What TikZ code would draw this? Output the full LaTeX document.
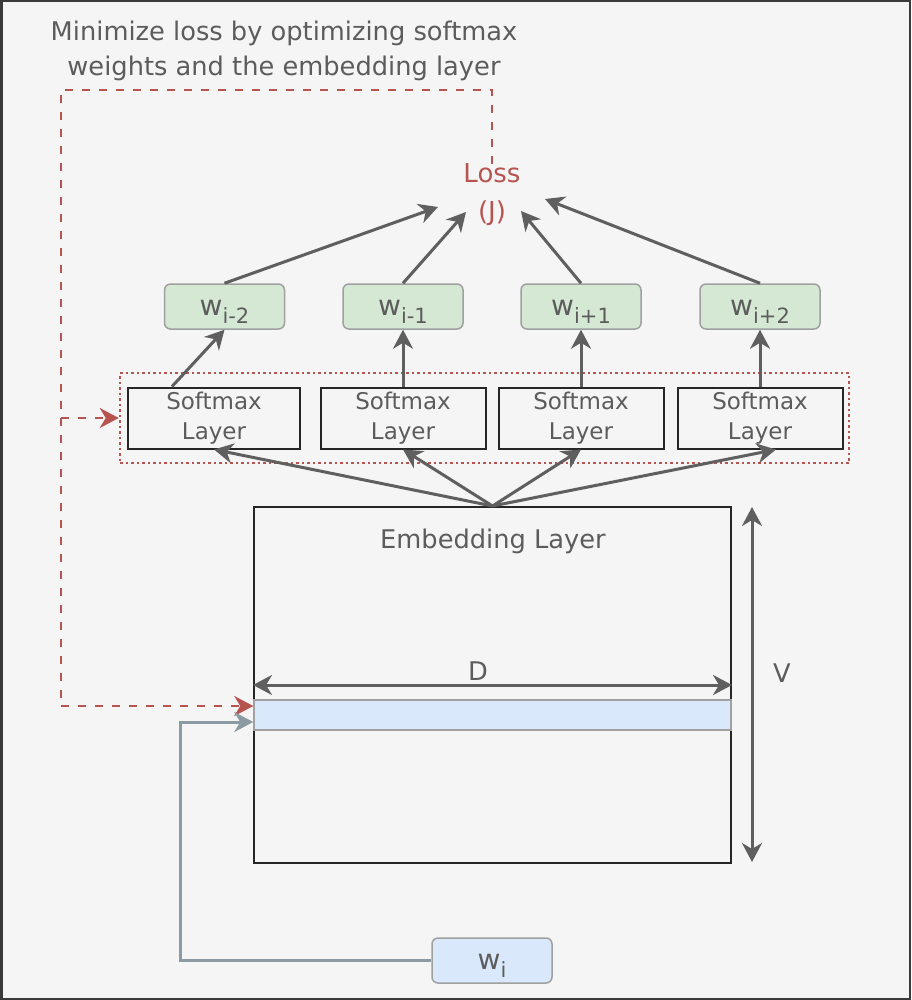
\documentclass[tikz,border=0pt]{standalone}
\usepackage{fontspec}
\setmainfont{DejaVu Sans}
\usetikzlibrary{positioning, arrows.meta, calc}
\definecolor{sfondo}{HTML}{F5F5F5}
\definecolor{cornice}{HTML}{3A3A3A}
\definecolor{testo}{HTML}{5C5C5C}
\definecolor{grigio}{HTML}{5F5F5F}
\definecolor{rosso}{HTML}{B85450}
\definecolor{verde}{HTML}{D5E8D4}
\definecolor{azzurro}{HTML}{DAE8FC}
\definecolor{bordo}{HTML}{A0A0A0}
\definecolor{legame}{HTML}{8C9AA4}
\newcommand{\wpos}[1]{w\raisebox{-8pt}{\fontsize{21}{21}\selectfont #1}}
\tikzset{
    punta/.style={-{Stealth[length=19pt, width=20pt, inset=6pt]}},
    freccia/.style={line width=3pt, grigio, punta}, % frecce grigie
    doppia/.style={line width=3pt, grigio, {Stealth[length=19pt, width=20pt, inset=6pt]}-{Stealth[length=19pt, width=20pt, inset=6pt]}},
    retro/.style={line width=2.5pt, rosso, dash pattern=on 8pt off 9pt}, % linea di ritorno
    retrofreccia/.style={retro, -{Stealth[length=19pt, width=20pt, inset=6pt]}},
    softmax/.style={draw=black!85, line width=2pt, minimum width=165pt, minimum height=61pt, inner sep=0pt, align=center, text=testo, font=\fontsize{23}{30}\selectfont},
    parola/.style={draw=bordo, fill=verde, rounded corners=6pt, line width=1.5pt, minimum width=120pt, minimum height=45pt, inner sep=0pt, text=testo, font=\fontsize{28}{28}\selectfont, text height=20pt, text depth=3pt},
    etichetta/.style={inner sep=0pt, text=testo, font=\fontsize{25.7}{35}\selectfont, align=center},
}
\begin{document}
\begin{tikzpicture}[x=1pt, y=-1pt, node distance=100pt, on grid]
    \useasboundingbox (0,0) rectangle (911,1000);
    \fill[sfondo] (0,0) rectangle (911,1000);
    \draw[cornice, line width=2.5pt] (1.25,1.25) rectangle (909.75,998.75);

    % Titolo
    \node[etichetta] (titolo) at (284,51) {Minimize loss by optimizing softmax\\weights and the embedding layer};

    % Nodi
    \node[softmax, minimum width=172pt] (s1) at (214,418) {Softmax\\Layer};
    \node[softmax] (s2) [right=189pt of s1] {Softmax\\Layer};
    \node[softmax] (s3) [right=178pt of s2] {Softmax\\Layer};
    \node[softmax] (s4) [right=179pt of s3] {Softmax\\Layer};
    \node[draw=rosso, line width=2.5pt, dash pattern=on 2.5pt off 3pt, minimum width=729pt, minimum height=90pt] (gruppo) at (484.5,418) {};

    \node[parola] (w1) at (224.5,306.5) {\wpos{i-2}};
    \node[parola] (w2) [above=111.5pt of s2] {\wpos{i-1}};
    \node[parola] (w3) [above=111.5pt of s3] {\wpos{i+1}};
    \node[parola] (w4) [above=111.5pt of s4] {\wpos{i+2}};

    \node[etichetta, text=rosso, font=\fontsize{26}{38}\selectfont] (loss) at (492,195) {Loss\\(J)};

    \node[draw=black!85, line width=2pt, minimum width=477pt, minimum height=356pt] (emb) at (492.5,685) {};
    \node[etichetta] (embtxt) at (493,541) {Embedding Layer};
    \node[draw=bordo, fill=azzurro, line width=1.5pt, minimum width=477pt, minimum height=30pt] (riga) at (492.5,715) {};
    \node[etichetta] (dlab) at (478,671) {D};
    \node[etichetta] (vlab) at (782,673) {V};
    \coordinate (valto) at (752,507);
    \coordinate (vbasso) at (752,862);

    \node[parola, fill=azzurro] (wi) at (492,960.5) {\wpos{i}};

    % Archi
    \path[freccia]
        (emb.north) edge (s1.south)
                    edge (s2.south)
                    edge (s3.south)
                    edge ([xshift=16pt]s4.south)
        ([xshift=-42pt]s1.north) edge (w1.south)
        (s2.north) edge (w2.south)
        (s3.north) edge (w3.south)
        (s4.north) edge (w4.south)
        (w1.north) edge ($(loss)+(-54,12)$)
        (w2.north) edge ($(loss)+(-26,17)$)
        (w3.north) edge ($(loss)+(29,16)$)
        (w4.north) edge ($(loss)+(53,4)$);

    \draw[doppia] (emb.west) -- (emb.east);
    \draw[doppia] (valto) -- (vbasso);

    % Ritorno
    \coordinate (alto) at (61,90);
    \coordinate (ramo) at (61,418);
    \coordinate (basso) at (61,706);
    \draw[retro] (loss.north) |- (alto) -- (basso);
    \draw[retrofreccia] (basso) -- ([yshift=9pt]riga.west);
    \draw[retrofreccia] (ramo) -- (gruppo.west);

    % Parola centrale
    \coordinate (gomito) at (180,722);
    \draw[line width=3pt, legame, punta] (wi.west) -| (gomito) -- ([yshift=-7pt]riga.west);
\end{tikzpicture}
\end{document}
